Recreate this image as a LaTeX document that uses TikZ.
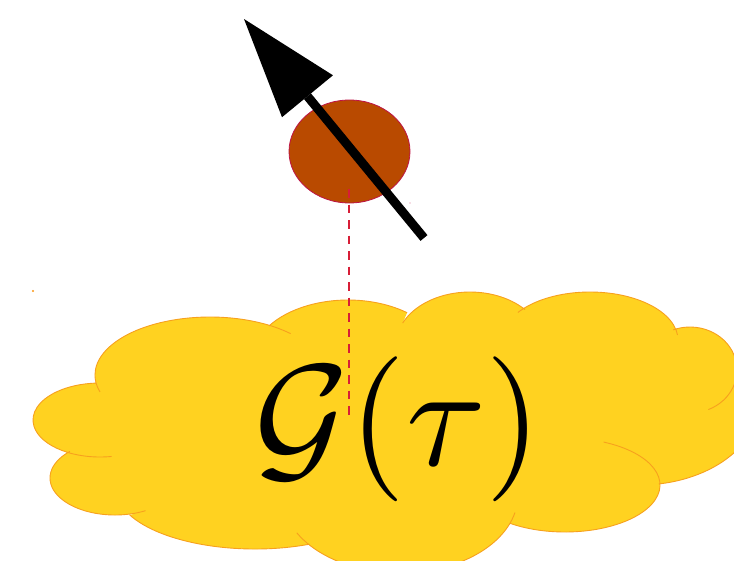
\documentclass[tikz,border=0pt]{standalone}
\usepackage{graphicx}
\usetikzlibrary{shapes.geometric,arrows.meta}
\definecolor{cloudfill}{RGB}{255,210,32}
\definecolor{cloudline}{RGB}{247,160,30}
\definecolor{spinfill}{RGB}{185,74,0}
\definecolor{spinline}{RGB}{190,20,70}
\definecolor{dashcol}{RGB}{215,30,55}
\definecolor{dotorange}{RGB}{250,150,20}
\newcommand\puff[5]{([shift={(#1)}]#4:#2 and #3) arc[start angle=#4,end angle=#5,x radius=#2,y radius=#3]}
\tikzset{
  cloudfillstyle/.style={fill=cloudfill},
  cloudlinestyle/.style={draw=cloudline,line width=0.9pt},
  spinstyle/.style={ellipse,fill=spinfill,draw=spinline,line width=0.8pt,inner sep=0pt},
  axisline/.style={draw=dashcol,line width=1.3pt,dash pattern=on 8.5pt off 7pt},
  spinarrow/.style={line width=9pt,-{Triangle[length=100pt,width=66pt,line width=0pt]}}
}
\begin{document}
\begin{tikzpicture}[x=1pt,y=-1pt]
\useasboundingbox (0,0) rectangle (734,560);
% cloud fill
\path[cloudfillstyle]
  \puff{100,420}{67}{37}{80}{267}
  -- \puff{210,375}{115}{58}{163}{314.5}
  -- \puff{348,360}{96}{60}{214.6}{308}
  -- \puff{470,345}{74}{53}{204.5}{318}
  -- \puff{590,340}{88}{48}{215}{354}
  -- \puff{690,370}{47}{43}{-111}{67}
  -- (745,370)
  -- \puff{640,400}{120}{85}{-10}{81}
  -- \puff{565,485}{95}{47}{-66}{125}
  -- \puff{400,495}{118}{78}{13}{151}
  -- \puff{255,489}{139}{60}{67}{154.3}
  -- \puff{115,478}{65}{37}{62}{226}
  -- cycle;
% cloud outline
\path[cloudlinestyle]
  \puff{100,420}{67}{37}{80}{267}
  \puff{210,375}{115}{58}{163}{314.5}
  \puff{348,360}{96}{60}{214.6}{308}
  \puff{470,345}{74}{53}{204.5}{318}
  \puff{590,340}{88}{48}{215}{354}
  \puff{690,370}{47}{43}{-111}{67}
  \puff{640,400}{120}{85}{-10}{81}
  \puff{565,485}{95}{47}{-66}{125}
  \puff{400,495}{118}{78}{13}{151}
  \puff{255,489}{139}{60}{67}{154.3}
  \puff{115,478}{65}{37}{62}{226};
% label
\node[anchor=base,inner sep=0pt] (label) at (398.5,465) {\scalebox{14.5}{$\mathcal{G}(\tau)$}};
% spin
\node[spinstyle,minimum width=121pt,minimum height=103pt] (spin) at (349.5,151.5) {};
\coordinate (dashtop) at (349,189);
\coordinate (dashend) at (349,415);
\draw[axisline] (dashtop) -- (dashend);
\coordinate (tail) at (424,238);
\coordinate (tip) at (244,19);
\draw[spinarrow] (tail) -- (tip);
% stray marks
\fill[dotorange] (33,291) circle (1.2);
\fill[spinline!60] (410,203) circle (0.7);
\end{tikzpicture}
\end{document}
